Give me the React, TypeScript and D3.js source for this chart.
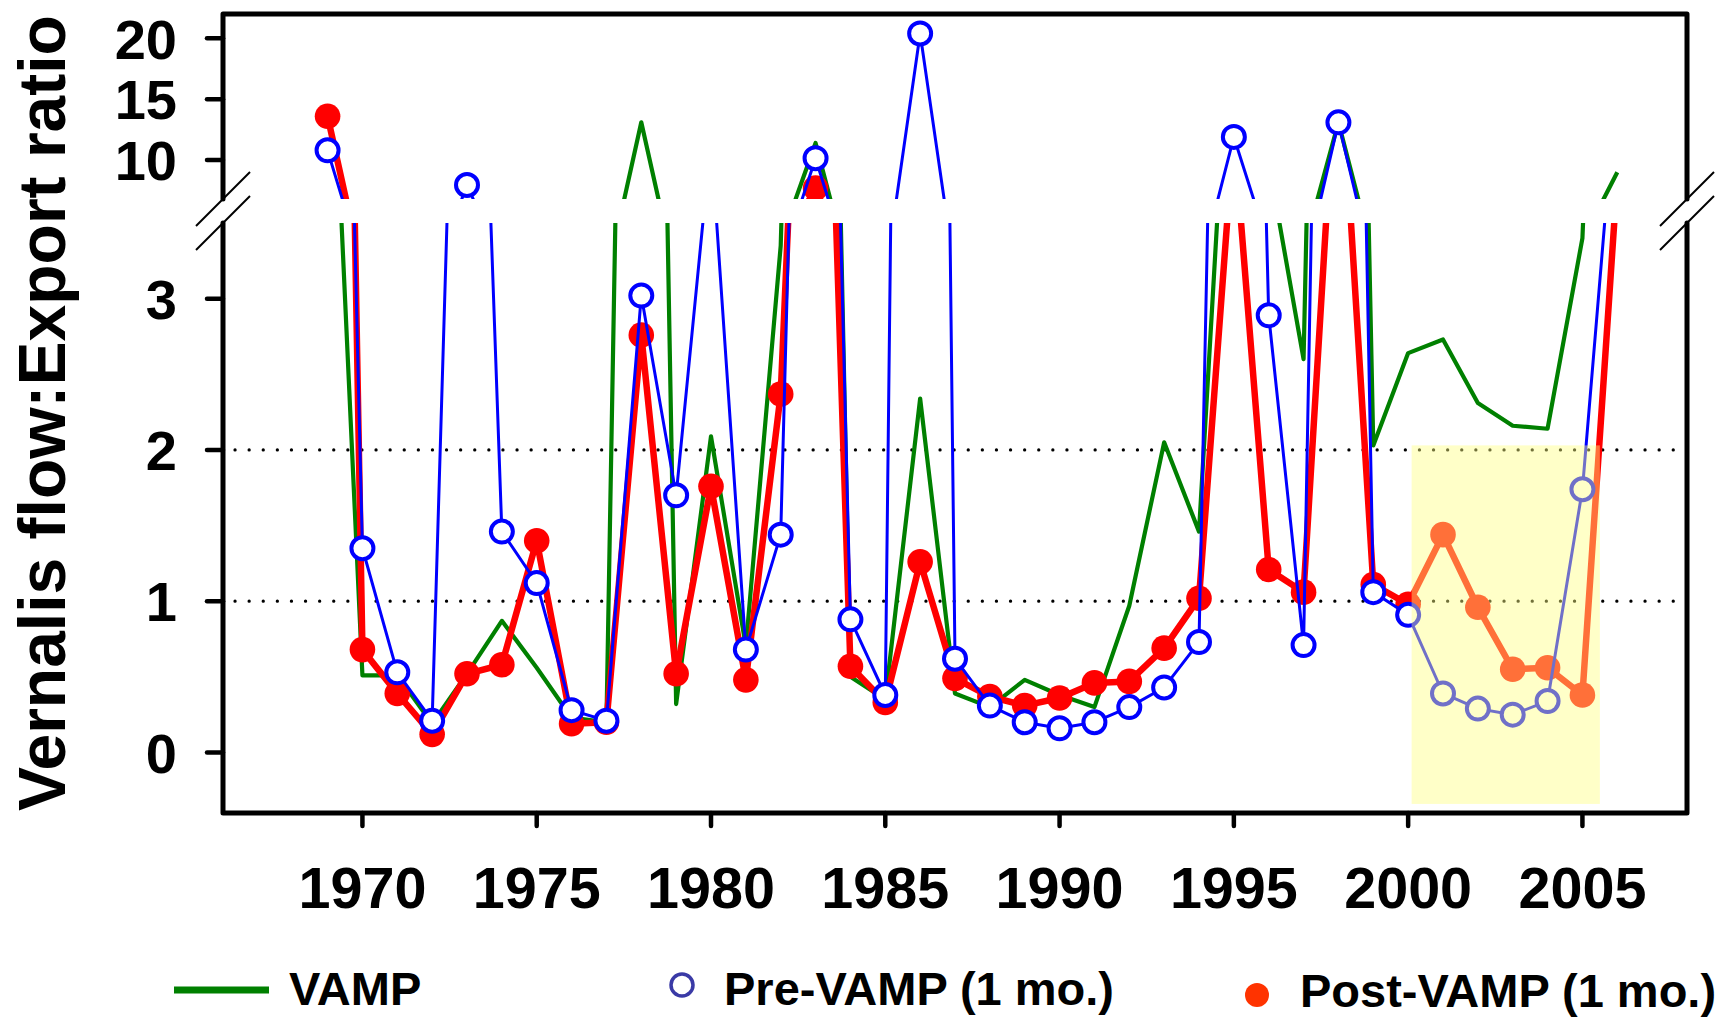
import * as d3 from "d3";

// water years on the x axis
const years = [
  1969, 1970, 1971, 1972, 1973, 1974, 1975, 1976, 1977, 1978,
  1979, 1980, 1981, 1982, 1983, 1984, 1985, 1986, 1987, 1988,
  1989, 1990, 1991, 1992, 1993, 1994, 1995, 1996, 1997, 1998,
  1999, 2000, 2001, 2002, 2003, 2004, 2005, 2006,
];

// Vernalis flow : export ratio
const vamp = [
  5.5, 0.51, 0.51, 0.19, 0.52, 0.87, 0.56, 0.23, 0.2, 13.1,
  0.32, 2.09, 0.7, 3.35, 11.4, 0.5, 0.35, 2.34, 0.39, 0.3,
  0.48, 0.38, 0.3, 0.97, 2.05, 1.46, 5.4, 3.9, 2.6, 13.1,
  2.03, 2.64, 2.73, 2.31, 2.16, 2.14, 3.4, 9.0,
];
const preVamp = [
  10.8, 1.35, 0.53, 0.21, 7.95, 1.46, 1.12, 0.28, 0.21, 3.02,
  1.7, 4.05, 0.68, 1.44, 10.15, 0.88, 0.38, 20.4, 0.62, 0.31,
  0.2, 0.16, 0.2, 0.3, 0.43, 0.73, 11.9, 2.89, 0.71, 13.1,
  1.06, 0.91, 0.39, 0.29, 0.25, 0.34, 1.74, 4.5,
];
const postVamp = [
  13.6, 0.68, 0.39, 0.12, 0.52, 0.58, 1.4, 0.19, 0.2, 2.76,
  0.52, 1.76, 0.48, 2.37, 7.7, 0.57, 0.33, 1.26, 0.49, 0.37,
  0.31, 0.36, 0.46, 0.47, 0.69, 1.02, 4.1, 1.21, 1.06, 4.85,
  1.11, 0.98, 1.44, 0.96, 0.55, 0.56, 0.38, 3.8,
];

const xTicks = [1970, 1975, 1980, 1985, 1990, 1995, 2000, 2005];
const topTicks = [10, 15, 20];
const bottomTicks = [0, 1, 2, 3];
const refLines = [1, 2];
// shaded VAMP period (years / ratio units)
const shadeYears = [2000.1, 2005.5];
const shadeRange = [-0.34, 2.03];

const W = 1730;
const H = 1019;
const left = 223;
const right = 1687;
const top0 = 14;
const top1 = 199;
const bot0 = 223;
const bot1 = 813;

const font = "'Liberation Sans', Arial, sans-serif";

const x = d3.scaleLinear().domain([1966, 2008]).range([left, right]);
const yTop = d3.scaleLinear().domain([6.8, 22]).range([top1, top0]);
const yBot = d3.scaleLinear().domain([-0.4, 3.5]).range([bot1, bot0]);

const panels = [
  { id: "clip-top", y: yTop, y0: top0, y1: top1 },
  { id: "clip-bot", y: yBot, y0: bot0, y1: bot1 },
];

function Panel({ id, y }: { id: string; y: d3.ScaleLinear<number, number> }) {
  const line = d3
    .line<number>()
    .x((_, i) => x(years[i]))
    .y((d) => y(d));
  const [lo, hi] = y.domain();
  const inside = (v: number) => v >= lo && v <= hi;

  return (
    <g clipPath={`url(#${id})`}>
      <path d={line(vamp) ?? ""} fill="none" stroke="#008000" strokeWidth={4.2} strokeLinejoin="round" />
      <path d={line(postVamp) ?? ""} fill="none" stroke="#ff0000" strokeWidth={6.5} strokeLinejoin="round" />
      {postVamp.map((v, i) =>
        inside(v) ? <circle key={"r" + i} cx={x(years[i])} cy={y(v)} r={12.8} fill="#ff0000" /> : null
      )}
      <path d={line(preVamp) ?? ""} fill="none" stroke="#0000ff" strokeWidth={3} strokeLinejoin="round" />
      {preVamp.map((v, i) =>
        inside(v) ? (
          <circle key={"b" + i} cx={x(years[i])} cy={y(v)} r={11} fill="#ffffff" stroke="#0000ff" strokeWidth={4} />
        ) : null
      )}
    </g>
  );
}

function BreakMark({ cx, cy }: { cx: number; cy: number }) {
  return <line x1={cx - 27} y1={cy + 27} x2={cx + 27} y2={cy - 27} stroke="#000" strokeWidth={2} />;
}

export default function App() {
  return (
    <div style={{ position: "fixed", left: 0, top: 0, background: "#fff" }}>
      <svg width={W} height={H} style={{ display: "block" }} fontFamily={font} fontWeight="bold">
        <defs>
          {panels.map((p) => (
            <clipPath id={p.id} key={p.id}>
              <rect x={left} y={p.y0} width={right - left} height={p.y1 - p.y0} />
            </clipPath>
          ))}
        </defs>

        {/* reference lines at ratio 1 and 2 */}
        {refLines.map((v) => (
          <line
            key={v}
            x1={left + 12}
            x2={right - 10}
            y1={yBot(v)}
            y2={yBot(v)}
            stroke="#000"
            strokeWidth={3.2}
            strokeLinecap="round"
            strokeDasharray="0.1 14"
          />
        ))}

        {panels.map((p) => (
          <Panel key={p.id} id={p.id} y={p.y} />
        ))}

        {/* VAMP period highlight, drawn over the data */}
        <rect
          x={x(shadeYears[0])}
          y={yBot(shadeRange[1])}
          width={x(shadeYears[1]) - x(shadeYears[0])}
          height={yBot(shadeRange[0]) - yBot(shadeRange[1])}
          fill="rgb(255,255,130)"
          fillOpacity={0.44}
        />

        {/* frame */}
        <g stroke="#000" strokeWidth={5} fill="none" strokeLinecap="round" strokeLinejoin="round">
          <path d={`M${left},${top1}V${top0}H${right}V${top1}`} />
          <path d={`M${left},${bot0}V${bot1}H${right}V${bot0}`} />
        </g>
        <BreakMark cx={left} cy={top1} />
        <BreakMark cx={left} cy={bot0} />
        <BreakMark cx={right} cy={top1} />
        <BreakMark cx={right} cy={bot0} />

        {/* y ticks */}
        {[
          ...topTicks.map((t) => ({ t, y: yTop(t) })),
          ...bottomTicks.map((t) => ({ t, y: yBot(t) })),
        ].map(({ t, y }) => (
          <g key={"y" + t}>
            <line x1={left - 16} x2={left} y1={y} y2={y} stroke="#000" strokeWidth={4.5} strokeLinecap="round" />
            <text x={177} y={y} dy="0.36em" textAnchor="end" fontSize={56}>
              {t}
            </text>
          </g>
        ))}

        {/* x ticks */}
        {xTicks.map((t) => (
          <g key={"x" + t}>
            <line x1={x(t)} x2={x(t)} y1={bot1} y2={bot1 + 13} stroke="#000" strokeWidth={4.5} strokeLinecap="round" />
            <text x={x(t)} y={908} textAnchor="middle" fontSize={57.5}>
              {t}
            </text>
          </g>
        ))}

        <text transform="translate(65,413) rotate(-90)" textAnchor="middle" fontSize={66}>
          Vernalis flow:Export ratio
        </text>

        {/* legend */}
        <line x1={174} x2={269} y1={990} y2={990} stroke="#008000" strokeWidth={7} />
        <text x={289} y={1005} fontSize={47}>
          VAMP
        </text>
        <circle cx={682} cy={985} r={11} fill="#fff" stroke="#3a3aa6" strokeWidth={3.5} />
        <text x={724} y={1005} fontSize={47}>
          Pre-VAMP (1 mo.)
        </text>
        <circle cx={1257} cy={995} r={12} fill="#ff3300" />
        <text x={1300} y={1007} fontSize={47}>
          Post-VAMP (1 mo.)
        </text>
      </svg>
    </div>
  );
}
